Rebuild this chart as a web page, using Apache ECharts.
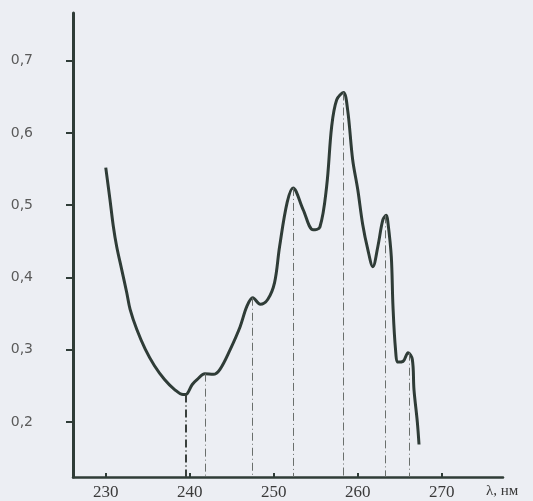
<!DOCTYPE html>
<html>
<head>
<meta charset="utf-8">
<script src="https://cdn.jsdelivr.net/npm/echarts@6/dist/echarts.min.js"></script>
<style>
html,body{margin:0;padding:0;background:#eceef3;}
#chart{width:533px;height:501px;}
</style>
</head>
<body>
<div id="chart"></div>
<script>
// Wavelength (nm) and absorbance
const wavelength = [230.0,230.5,230.9,231.3,231.9,232.5,232.9,233.7,234.7,235.8,237.0,238.2,239.2,239.5,240.3,240.9,241.8,242.8,243.6,244.8,246.0,246.8,247.5,248.4,249.3,250.1,250.7,251.6,252.3,253.5,254.7,255.5,256.3,256.9,257.5,258.3,258.8,259.4,260.0,260.6,261.2,261.8,262.4,263.0,263.4,263.6,264.0,264.2,264.5,264.8,265.4,266.0,266.5,266.7,267.1,267.3];
const absorbance = [0.552,0.508,0.471,0.443,0.411,0.379,0.356,0.328,0.301,0.278,0.259,0.245,0.238,0.238,0.252,0.259,0.267,0.266,0.273,0.300,0.332,0.360,0.372,0.363,0.370,0.393,0.443,0.504,0.524,0.494,0.466,0.470,0.526,0.609,0.646,0.656,0.632,0.563,0.522,0.473,0.439,0.415,0.443,0.480,0.486,0.476,0.429,0.360,0.301,0.283,0.284,0.296,0.287,0.245,0.200,0.169];
// Vertical drop lines at band positions
const dropX = [239.5,241.8,247.5,252.3,258.3,263.3,266.1];
const dropY = [0.238,0.267,0.372,0.524,0.656,0.486,0.296];
const xTicks = [230,240,250,260,270];
const yTicks = [0.2,0.3,0.4,0.5,0.6,0.7];
const xMin = 226.1, xMax = 277.3, yMin = 0.124, yMax = 0.766;
const xName = 'λ, нм';

const ink = '#2f3c37';
const chart = echarts.init(document.getElementById('chart'));
chart.setOption({
  backgroundColor: '#eceef3',
  animation: false,
  grid: {left: 73, top: 13, right: 30, bottom: 23},
  xAxis: {
    type: 'value', min: xMin, max: xMax,
    splitLine: {show: false},
    axisLine: {lineStyle: {color: ink, width: 2.5}},
    axisTick: {show: true, inside: true, length: 4, customValues: xTicks, lineStyle: {color: ink, width: 2}},
    axisLabel: {customValues: xTicks, margin: 7, color: '#3a3a3a', fontFamily: 'Liberation Serif', fontSize: 17}
  },
  yAxis: {
    type: 'value', min: yMin, max: yMax,
    splitLine: {show: false},
    axisLine: {show: true, lineStyle: {color: ink, width: 3}},
    axisTick: {show: true, length: 7, customValues: yTicks, lineStyle: {color: ink, width: 2}},
    axisLabel: {customValues: yTicks, margin: 40, color: '#5a5a5a', fontFamily: 'DejaVu Sans', fontSize: 14,
      formatter: v => v.toFixed(1).replace('.', ',')}
  },
  graphic: [{
    type: 'text', left: 486, top: 484,
    style: {text: xName, fill: '#3a3a3a', font: '15px "Liberation Serif"'}
  }],
  series: [{
    type: 'line',
    data: wavelength.map((w, i) => [w, absorbance[i]]),
    showSymbol: false,
    smooth: 0.35,
    lineStyle: {color: ink, width: 3},
    markLine: {
      silent: true,
      symbol: 'none',
      label: {show: false},
      lineStyle: {color: '#6a6f6c', width: 1, type: [8, 3, 1, 3]},
      data: dropX.map((x, i) => [
        {coord: [x, dropY[i]], lineStyle: i === 0 ? {width: 2, color: '#3a403d'} : undefined},
        {coord: [x, yMin]}
      ])
    }
  }]
});
</script>
</body>
</html>
